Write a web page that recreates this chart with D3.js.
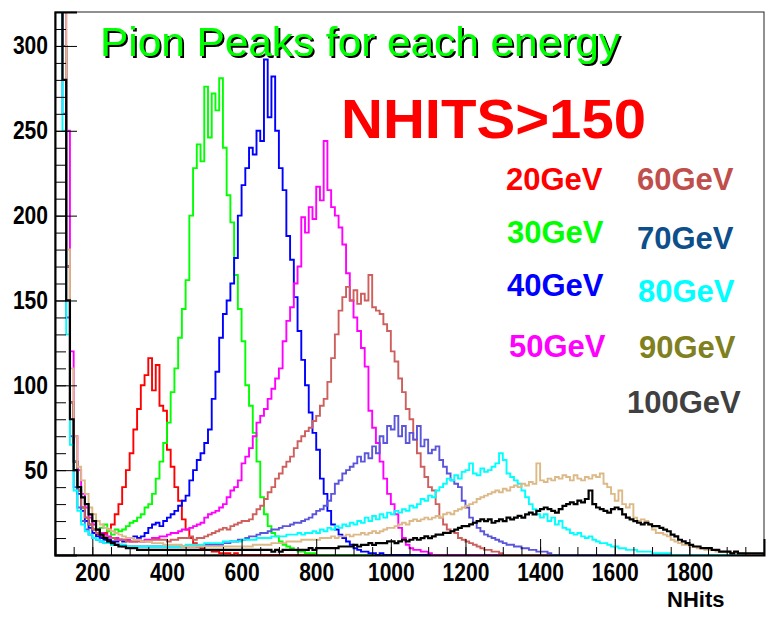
<!DOCTYPE html>
<html>
<head>
<meta charset="utf-8">
<script src="https://cdn.jsdelivr.net/npm/d3@7"></script>
<style>
  body { margin: 0; background: #fff; }
  svg { display: block; background: #fff; font-family: "Liberation Sans", Arial, sans-serif; }
</style>
</head>
<body>
<svg width="774" height="620"></svg>
<script>
// histogram bins: first edge 100, width 10 NHits
const binStart = 100;
const binWidth = 10;

const energies = ["20GeV", "30GeV", "40GeV", "50GeV", "60GeV", "70GeV", "80GeV", "90GeV", "100GeV"];
const lineColors = ["#ff0000", "#00ff00", "#0000ff", "#ff00ff", "#cd5f5c", "#5a55da", "#00ffff", "#dcb987", "#000000"];
const labelColors = ["#ff0000", "#00ff00", "#0000ff", "#ff00ff", "#bf4f4d", "#0d4f8b", "#00ffff", "#808020", "#404040"];

const h20 = [
  900,700,300,170,90,55,38,28,22,18,
  15,12,11,13,15,18,24,30,40,50,
  60,74,86,100,106,116,97,112,88,85,
  62,52,40,32,21,15,10,7,5,4,
  3,3,2,2,1,1,1,0,1
];
const h30 = [
  900,700,300,170,90,55,38,28,22,18,
  15,13,16,18,14,12,15,14,15,17,
  19,20,22,24,28,30,36,45,55,66,
  78,96,110,128,145,162,200,228,242,232,
  276,246,272,262,281,240,212,196,165,145,
  126,100,88,72,55,34,24,17,13,11,
  8,6,5,4,3,2,2,1,1,1
];
const h40 = [
  900,700,300,170,90,55,36,26,20,16,
  13,11,10,9,9,8,8,9,8,9,
  10,11,10,11,13,16,18,19,17,20,
  22,24,26,29,32,35,44,50,56,60,
  66,74,92,108,128,142,150,160,175,200,
  218,228,240,236,250,244,292,258,282,250,
  228,215,188,174,152,132,115,100,84,72,
  62,45,36,26,18,15,12,10,8,6,
  4,3,2,2,1,1,0,1
];
const h50 = [
  900,700,320,250,120,70,50,36,28,22,
  18,15,13,12,11,10,10,9,9,9,
  8,8,9,8,9,9,10,10,11,11,
  12,13,13,14,15,15,16,17,18,19,
  22,24,25,26,28,30,34,38,40,44,
  54,58,63,70,78,82,86,92,98,104,
  110,126,138,146,160,170,199,190,205,198,
  217,209,244,215,205,200,193,183,166,150,
  140,132,122,111,85,75,66,55,45,36,
  30,24,16,10,6,4,3,3,2,2,
  1
];
const h60 = [
  900,700,300,170,90,55,38,28,22,18,
  15,13,12,11,10,10,9,9,9,8,
  8,8,8,8,8,8,9,9,9,9,
  8,9,9,10,10,10,11,9,10,10,
  11,12,13,14,15,16,15,17,18,19,
  20,20,21,24,27,29,33,37,40,45,
  48,52,55,58,63,67,70,73,75,79,
  82,88,92,102,116,130,144,152,158,150,
  156,148,154,150,165,146,144,142,136,132,
  120,114,104,96,86,80,68,60,52,46,
  40,38,30,22,18,15,14,13,10,9,
  8,7,6,5,4,3,3,2,2,1
];
const h70 = [
  900,700,260,140,70,40,28,20,15,12,
  10,9,8,7,7,6,6,6,5,5,
  5,5,5,5,5,5,5,5,5,5,
  5,5,5,5,5,5,5,5,5,5,
  6,6,6,6,6,7,7,8,8,9,
  9,10,11,11,12,13,13,14,15,15,
  16,17,17,18,19,19,20,21,22,24,
  26,27,29,32,36,42,44,48,50,52,
  54,58,55,60,57,64,60,70,66,76,
  74,82,70,76,66,72,68,76,64,68,
  60,62,64,56,52,48,44,42,40,32,
  28,22,19,16,14,12,11,10,9,8,
  7,6,6,5,5,4,4,3,3,2,
  2,2,1
];
const h80 = [
  900,700,250,130,65,38,26,18,14,12,
  10,9,8,7,7,6,6,6,6,5,
  5,5,5,5,5,5,5,5,5,5,
  5,5,5,5,5,6,6,6,6,6,
  7,7,7,7,7,8,8,8,8,8,
  9,9,9,9,10,10,10,10,11,11,
  11,11,12,12,12,13,12,13,13,14,
  13,15,14,16,15,17,16,18,17,19,
  18,20,19,22,20,23,21,24,22,25,
  24,26,25,27,26,29,28,30,33,32,
  35,34,38,40,42,45,44,47,45,49,
  50,54,48,47,51,49,50,52,54,60,
  56,48,46,44,42,38,34,30,27,24,
  22,24,20,22,18,20,16,15,13,12,
  13,11,10,11,9,8,7,7,6,5,
  5,4,4,3,3,3,2,2,2,2,
  1,1,1,1,1
];
const h90 = [
  900,700,320,180,110,70,52,44,36,28,
  24,20,18,16,15,14,13,12,11,10,
  10,9,9,8,8,8,7,7,7,6,
  6,6,6,6,5,5,5,5,5,5,
  5,5,5,5,5,5,5,5,5,5,
  5,5,5,6,6,6,6,6,7,7,
  7,7,8,8,8,8,9,9,9,9,
  9,10,10,10,11,10,11,11,12,11,
  12,12,13,12,13,14,13,14,15,16,
  16,17,18,19,18,20,21,20,21,22,
  21,22,23,22,24,25,24,26,27,28,
  29,30,31,33,34,35,36,37,38,37,
  39,38,40,41,40,42,41,43,42,54,
  44,43,45,44,46,45,47,46,44,47,
  45,44,46,45,47,46,48,42,40,36,
  32,38,30,28,30,22,20,21,20,18,
  15,13,13,12,11,9,8,7,6,6,
  5,5,4,4,3,3,3,2,2,2,
  2,1,1,1,1
];
const h100 = [
  900,700,280,150,80,50,40,34,30,24,
  20,15,12,10,8,7,6,5,5,4,
  4,4,3,3,3,3,3,3,3,3,
  3,3,3,3,3,3,3,3,3,3,
  3,3,3,3,3,3,3,3,3,3,
  3,3,3,3,3,3,3,3,2,3,
  2,3,3,3,3,3,3,3,4,3,
  4,4,4,4,4,4,5,5,5,5,
  6,5,6,6,7,6,7,7,7,8,
  8,7,8,9,8,9,10,9,10,11,
  10,11,12,12,13,13,14,15,16,17,
  17,18,19,20,21,20,21,19,20,21,
  20,22,21,22,23,22,24,25,24,26,
  27,28,27,26,25,27,29,30,31,30,
  32,31,33,38,30,28,27,26,25,27,
  28,27,24,22,21,20,19,18,19,18,
  17,17,16,15,14,12,11,9,8,7,
  6,5,5,4,4,4,3,3,2,2,
  2,1,2,1,1,1,1,1,1,1
];

const series = [h20, h30, h40, h50, h60, h70, h80, h90, h100];

const xTicks = [200, 400, 600, 800, 1000, 1200, 1400, 1600, 1800];
const yTicks = [50, 100, 150, 200, 250, 300];

// layout of the energy labels (left x, baseline y)
const labelPos = [[506, 190], [507, 243], [507, 296], [509, 357],
                  [637, 190], [637, 249], [638, 302], [639, 358], [627, 413]];

const svg = d3.select("svg");

const x = d3.scaleLinear().domain([100, 2000]).range([55, 764]);
const y = d3.scaleLinear().domain([0, 320]).range([555, 12]);

// shadow for the title
const shadow = svg.append("defs").append("filter")
    .attr("id", "shadow")
    .attr("x", "-5%").attr("y", "-20%").attr("width", "110%").attr("height", "140%");
shadow.append("feDropShadow")
    .attr("dx", 2).attr("dy", 2).attr("stdDeviation", 0)
    .attr("flood-color", "#000").attr("flood-opacity", 1);

// frame
svg.append("rect")
    .attr("x", x(100)).attr("y", y(320))
    .attr("width", x(2000) - x(100)).attr("height", y(0) - y(320))
    .attr("fill", "none").attr("stroke", "#222").attr("stroke-width", 1);

// histograms
svg.append("clipPath").attr("id", "plotClip")
  .append("rect")
    .attr("x", x(100)).attr("y", y(320))
    .attr("width", x(2000) - x(100)).attr("height", y(0) - y(320) + 1);

const line = d3.line()
    .x(d => x(d.n))
    .y(d => y(d.v))
    .curve(d3.curveStepAfter);

function toBins(values) {
    const pts = values.map((v, i) => ({n: binStart + i * binWidth, v: v}));
    pts.push({n: binStart + values.length * binWidth, v: 0});
    pts.push({n: 2000, v: 0});
    return pts;
}

svg.append("g")
    .attr("clip-path", "url(#plotClip)")
  .selectAll("path")
  .data(series)
  .enter().append("path")
    .attr("d", d => line(toBins(d)))
    .attr("fill", "none")
    .attr("stroke", (d, i) => lineColors[i])
    .attr("stroke-width", (d, i) => i === 8 ? 2.2 : 1.9);

// tick labels are narrow bold digits, about 11.7px each
function styleTicks(g) {
    g.selectAll("text")
        .attr("font-weight", "bold").attr("font-size", 25).attr("fill", "#000")
        .attr("textLength", function() { return this.textContent.length * 11.7; })
        .attr("lengthAdjust", "spacingAndGlyphs");
}

// y axis: minor then major ticks, drawn inside the frame
svg.append("g")
    .attr("transform", `translate(${x(100)},0)`)
    .call(d3.axisLeft(y).tickValues(d3.range(10, 321, 10)).tickSize(-11).tickFormat(""))
    .call(g => g.select(".domain").remove());

const yAxis = svg.append("g")
    .attr("transform", `translate(${x(100)},0)`)
    .call(d3.axisLeft(y).tickValues(yTicks).tickSize(-22).tickPadding(7).tickFormat(d3.format("d")));
yAxis.select(".domain").attr("stroke-width", 2);
yAxis.call(styleTicks);

// x axis
svg.append("g")
    .attr("transform", `translate(0,${y(0)})`)
    .call(d3.axisBottom(x).tickValues(d3.range(150, 2000, 50)).tickSize(-8).tickFormat(""))
    .call(g => g.select(".domain").remove());

const xAxis = svg.append("g")
    .attr("transform", `translate(0,${y(0)})`)
    .call(d3.axisBottom(x).tickValues(xTicks).tickSize(-16).tickPadding(8).tickFormat(d3.format("d")));
xAxis.select(".domain").attr("stroke-width", 2);
xAxis.call(styleTicks);

svg.append("text")
    .attr("x", 667).attr("y", 607)
    .attr("font-weight", "bold").attr("font-size", 22)
    .text("NHits");

// title
svg.append("text")
    .attr("x", 100).attr("y", 56)
    .attr("font-size", 41).attr("textLength", 520).attr("lengthAdjust", "spacingAndGlyphs")
    .attr("fill", "#00ff00")
    .attr("filter", "url(#shadow)")
    .text("Pion Peaks for each energy");

svg.append("text")
    .attr("x", 341).attr("y", 138)
    .attr("font-size", 56).attr("font-weight", "bold")
    .attr("textLength", 305).attr("lengthAdjust", "spacingAndGlyphs")
    .attr("fill", "#ff0000")
    .text("NHITS>150");

// energy labels
svg.append("g")
  .selectAll("text")
  .data(energies)
  .enter().append("text")
    .attr("x", (d, i) => labelPos[i][0])
    .attr("y", (d, i) => labelPos[i][1])
    .attr("font-size", 31).attr("font-weight", "bold")
    .attr("fill", (d, i) => labelColors[i])
    .text(d => d);
</script>
</body>
</html>
